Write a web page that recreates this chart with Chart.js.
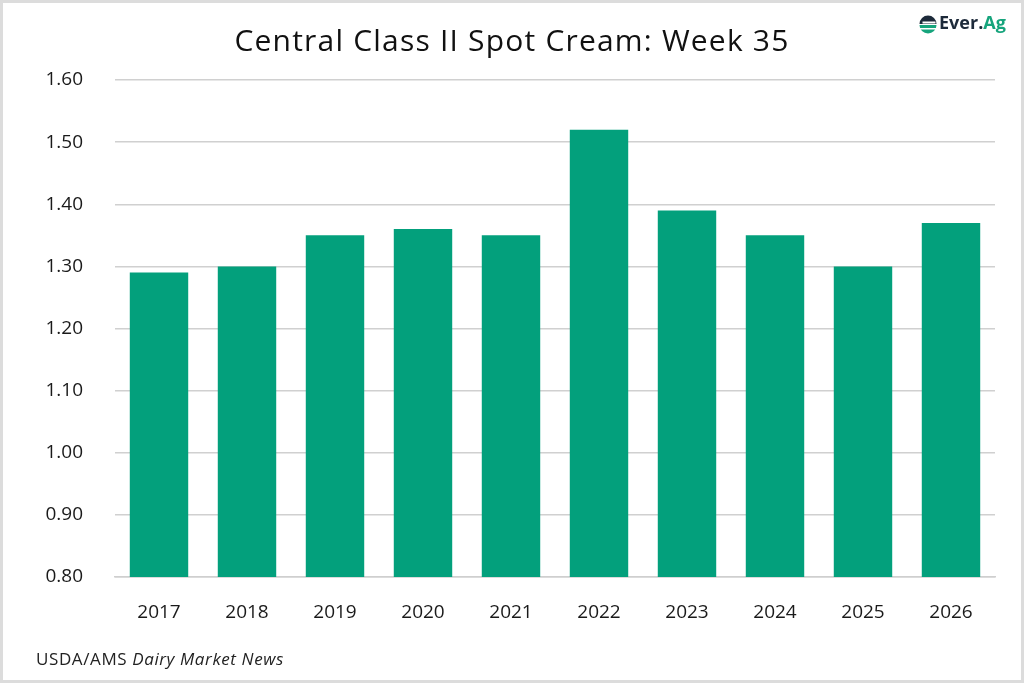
<!DOCTYPE html>
<html>
<head>
<meta charset="utf-8">
<script src="https://cdn.jsdelivr.net/npm/chart.js@4/dist/chart.umd.min.js"></script>
<style>
html,body{margin:0;padding:0;background:#fff;}
#wrap{width:1024px;height:683px;position:relative;}
</style>
</head>
<body>
<div id="wrap"><canvas id="c" width="1024" height="683"></canvas></div>
<script>
const titleText = "Central Class II Spot Cream: Week 35";
const categories = ["2017","2018","2019","2020","2021","2022","2023","2024","2025","2026"];
const values = [1.29,1.30,1.35,1.36,1.35,1.52,1.39,1.35,1.30,1.37];
const yMin = 0.8, yMax = 1.6, yStep = 0.1;
const sourcePlain = "USDA/AMS ";
const sourceItalic = "Dairy Market News";

const FONT = "'Open Sans', sans-serif";
const GREEN = "#03a07c";

const decor = {
  id: 'decor',
  beforeDraw(chart) {
    const ctx = chart.ctx;
    ctx.save();
    ctx.fillStyle = '#fff';
    ctx.fillRect(0,0,chart.width,chart.height);
    ctx.restore();
  },
  afterDraw(chart) {
    const ctx = chart.ctx;
    ctx.save();
    // outer border
    ctx.strokeStyle = '#dcdcdc';
    ctx.lineWidth = 3;
    ctx.strokeRect(1.5,1.5,chart.width-3,chart.height-3);
    // title
    ctx.fillStyle = '#111';
    ctx.font = "30px " + FONT;
    ctx.letterSpacing = '1.2px';
    ctx.textAlign = 'center';
    ctx.textBaseline = 'middle';
    ctx.fillText(titleText, 512, 42);
    // source
    ctx.textAlign = 'left';
    ctx.letterSpacing = '0.6px';
    ctx.font = "17px " + FONT;
    ctx.fillStyle = '#222';
    ctx.fillText(sourcePlain, 36, 660);
    const w = ctx.measureText(sourcePlain).width;
    ctx.font = "italic 17px " + FONT;
    ctx.fillText(sourceItalic, 36 + w, 660);
    ctx.letterSpacing = '0px';
    // logo icon
    const cx = 928, cy = 24, r = 8.5;
    ctx.beginPath();
    ctx.arc(cx, cy, r, Math.PI*1.0, Math.PI*2.0);
    ctx.lineTo(cx - r, cy);
    ctx.fillStyle = '#1d2a3a';
    ctx.fill();
    ctx.fillStyle = '#fff';
    ctx.fillRect(cx - r + 3, cy - 2.5, 2*r - 4, 2);
    ctx.fillStyle = '#16a47c';
    ctx.beginPath();
    ctx.moveTo(cx - r, cy + 1);
    ctx.lineTo(cx + r, cy + 1);
    ctx.arc(cx, cy + 1, r, 0, Math.PI, false);
    ctx.fill();
    ctx.fillStyle = '#fff';
    ctx.fillRect(cx - r, cy + 4, 2*r, 1.5);
    // logo text
    ctx.font = "bold 18px " + FONT;
    ctx.textBaseline = 'middle';
    ctx.fillStyle = '#1d2a3a';
    ctx.fillText("Ever.", 939, 24);
    const w2 = ctx.measureText("Ever.").width;
    ctx.fillStyle = '#16a47c';
    ctx.fillText("Ag", 939 + w2, 24);
    ctx.restore();
  }
};

new Chart(document.getElementById('c'), {
  type: 'bar',
  data: {
    labels: categories,
    datasets: [{
      data: values,
      backgroundColor: GREEN,
      borderWidth: 0,
      barPercentage: 1.0,
      categoryPercentage: 0.664
    }]
  },
  options: {
    responsive: false,
    animation: false,
    devicePixelRatio: 1,
    layout: { padding: { top: 80, right: 29, bottom: 46, left: 0 } },
    plugins: { legend: { display: false }, title: { display: false }, tooltip: { enabled: false } },
    scales: {
      x: {
        grid: { display: false, drawTicks: false },
        border: { display: true, color: '#cfcfcf', width: 1.5 },
        ticks: { color: '#1a1a1a', font: { family: FONT, size: 19 }, padding: 24 },
        afterFit(s) { s.height = 60; }
      },
      y: {
        min: yMin, max: yMax,
        grid: { color: '#d0d0d0', lineWidth: 1.5, drawTicks: false },
        border: { display: false },
        ticks: {
          stepSize: yStep,
          color: '#1a1a1a',
          font: { family: FONT, size: 19 },
          padding: 32,
          callback: v => Number(v).toFixed(2)
        },
        afterFit(s) { s.width = 115; }
      }
    }
  },
  plugins: [decor]
});
</script>
</body>
</html>
